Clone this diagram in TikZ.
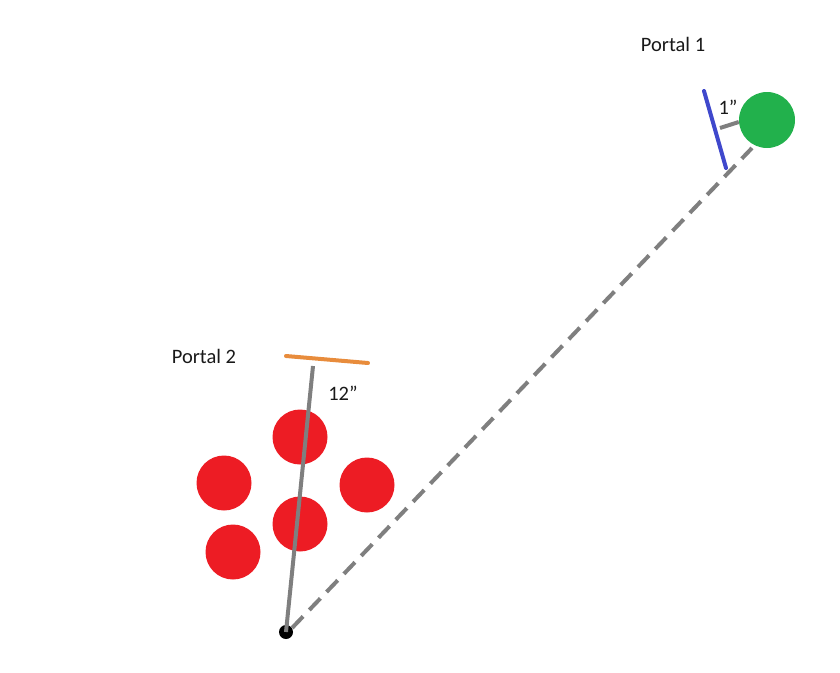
\documentclass[tikz,border=0pt]{standalone}
\usepackage{fontspec}
\setmainfont{Carlito}
\definecolor{redc}{RGB}{237,28,36}
\definecolor{greenc}{RGB}{34,177,76}
\definecolor{bluec}{RGB}{63,72,204}
\definecolor{orangec}{RGB}{232,140,60}
\definecolor{grayc}{RGB}{127,127,127}
\newcommand{\inch}{\symbol{"22}}
\begin{document}
\begin{tikzpicture}[x=1pt,y=-1pt,
  ball/.style={circle,fill=redc,draw=none,minimum size=55pt,inner sep=0pt},
  lbl/.style={font=\fontsize{20.5}{24}\selectfont,inner sep=0pt,text=black!90},
  bar/.style={line width=4pt,line cap=round},
  measure/.style={line width=4pt,draw=grayc},
  trace/.style={line width=4pt,draw=grayc,dash pattern=on 16pt off 9pt}]
\useasboundingbox (0,0) rectangle (840,672);
% red balls
\node[ball] (b1) at (300,437) {};
\node[ball] (b2) at (224,483) {};
\node[ball] (b3) at (367,485) {};
\node[ball] (b4) at (300,524) {};
\node[ball] (b5) at (233,552) {};
% green ball and black dot
\node[circle,fill=greenc,minimum size=56pt,inner sep=0pt] (g) at (767,120) {};
\node[circle,fill=black,minimum size=14pt,inner sep=0pt] (dot) at (286,632) {};
% portals
\coordinate (p1a) at (704,91);
\coordinate (p1b) at (726,168);
\coordinate (p2a) at (286,356);
\coordinate (p2b) at (368,363);
\draw[bar,bluec] (p1a) -- (p1b);
\draw[bar,orangec] (p2a) -- (p2b);
% measurements
\coordinate (m1) at (720,128);
\coordinate (m2) at (313,366);
\draw[measure] (m1) -- (g.west |- 0,122);
\draw[measure] (dot.center) -- (m2);
% dashed trace
\coordinate (t1) at (752,148);
\draw[trace] (dot.center) ++(6,-4) -- (t1);
% labels
\node[lbl] (lp1) at (673,44) {Portal 1};
\node[lbl] (lp2) at (204,356) {Portal 2};
\node[lbl] (l1) at (728,107) {1\inch};
\node[lbl] (l12) at (343,393) {12\inch};
\end{tikzpicture}
\end{document}
